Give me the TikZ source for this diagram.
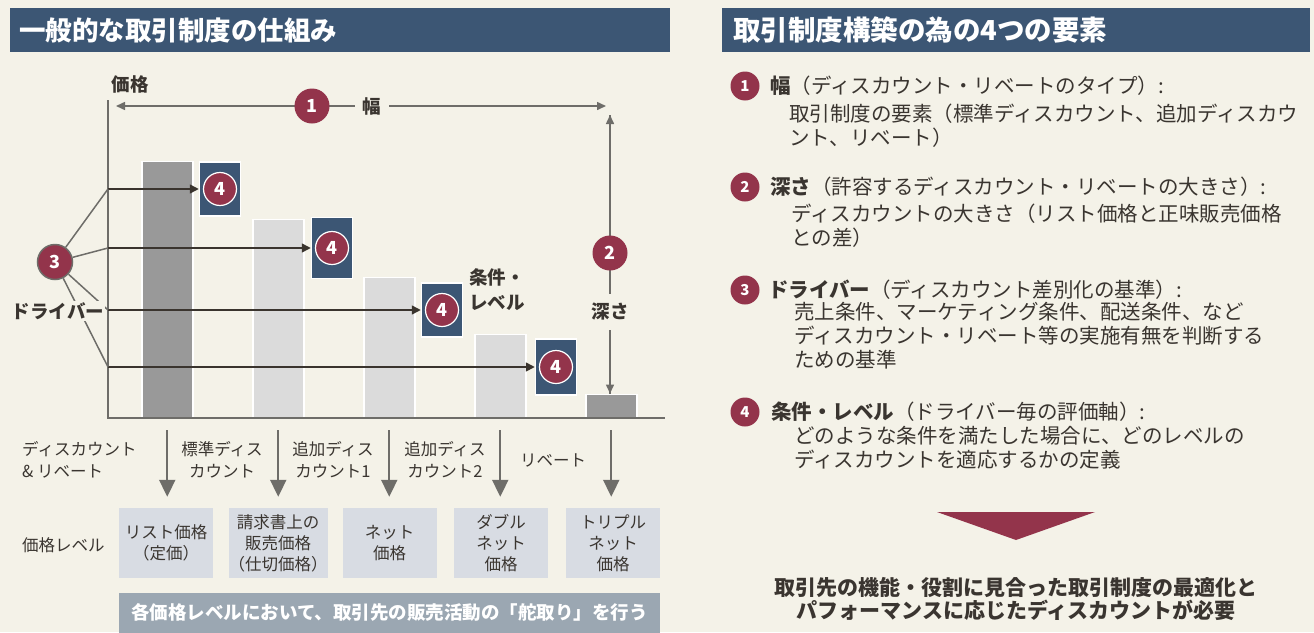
\documentclass[tikz,border=0pt]{standalone}
\usepackage{fontspec}
\setmainfont{Noto Sans CJK JP}
\usetikzlibrary{arrows.meta}
\definecolor{bg}{HTML}{F4F2E8}
\definecolor{hblue}{HTML}{3C5674}
\definecolor{maroon}{HTML}{93344B}
\definecolor{dbar}{HTML}{999999}
\definecolor{lbar}{HTML}{DBDBDB}
\definecolor{lvl}{HTML}{D8DCE3}
\definecolor{banner}{HTML}{9BA7B2}
\definecolor{axg}{HTML}{6E6D69}
\definecolor{dk}{HTML}{3A342E}
\definecolor{txt}{HTML}{3A3530}
\newcommand\fsz[2]{\fontsize{#1}{#2}\selectfont}
\begin{document}
\begin{tikzpicture}[x=1pt,y=-1pt,
  every node/.style={text=txt},
  hdrbox/.style={fill=hblue, inner sep=0, anchor=north west, minimum height=44},
  hdrtext/.style={text=white, font=\bfseries\fsz{26.5}{28}, anchor=west, inner sep=0},
  barD/.style={fill=dbar, draw=white, line width=1.5pt, anchor=south west, inner sep=0, minimum width=51},
  barL/.style={fill=lbar, draw=white, line width=1.5pt, anchor=south west, inner sep=0, minimum width=51},
  qbox/.style={fill=hblue, draw=white, line width=1.5pt, inner sep=0, minimum width=41},
  q4/.style={circle, fill=maroon, draw=white, line width=1.2pt, text=white, font=\bfseries\fsz{18}{20}, inner sep=0, minimum size=33},
  num/.style={circle, fill=maroon, text=white, font=\bfseries\fsz{18}{20}, inner sep=0, minimum size=35},
  axis/.style={draw=axg, line width=1.5pt},
  gline/.style={draw=axg, line width=1.5pt},
  darr/.style={draw=dk, line width=1.6pt, -{Triangle[length=9pt,width=9pt]}},
  garr/.style={draw=axg, line width=1.5pt, {Triangle[length=9pt,width=8pt]}-{Triangle[length=9pt,width=8pt]}},
  sarr/.style={draw=axg, line width=1.5pt, -{Triangle[length=9pt,width=8pt]}},
  downarr/.style={draw=axg, line width=2pt, -{Triangle[length=17pt,width=16pt]}},
  lbl/.style={font=\fsz{16.5}{22}, inner sep=1pt},
  lblb/.style={font=\bfseries\fsz{18.5}{25}, inner sep=1pt},
  lvlbox/.style={fill=lvl, minimum width=94, minimum height=70, align=center, inner sep=0, font=\fsz{16.5}{21}},
  rnum/.style={circle, fill=maroon, text=white, font=\bfseries\fsz{15}{16}, minimum size=29, inner sep=0},
  rhead/.style={anchor=west, font=\fsz{20.5}{24}, inner sep=0},
  rbody/.style={anchor=north west, align=left, font=\fsz{20.5}{24}, inner sep=0}
]
\fill[bg] (0,0) rectangle (1314,632);
\useasboundingbox (0,0) rectangle (1314,632);

% headers
\node[hdrbox, minimum width=660] (H1) at (10,8) {};
\node[hdrtext] (H1t) at (19,30) {一般的な取引制度の仕組み};
\node[hdrbox, minimum width=588] (H2) at (722,8) {};
\node[hdrtext, font=\bfseries\fsz{27.5}{28}] (H2t) at (733,30) {取引制度構築の為の4つの要素};

% bars
\node[barD, minimum height=256] (b1) at (141,418) {};
\node[barL, minimum height=198] (b2) at (252,418) {};
\node[barL, minimum height=140] (b3) at (363,418) {};
\node[barL, minimum height=83] (b4) at (474,418) {};
\node[barD, minimum height=23] (b5) at (585,418) {};

% axes
\coordinate (ytop) at (108,100);
\coordinate (orig) at (108,418);
\coordinate (xend) at (665,418);
\draw[axis] (ytop) -- (orig) -- (xend);
\node[lblb] (yl) at (130,84) {価格};

% condition boxes
\node[qbox, minimum height=54] (q1) at (220,189) {};
\node[q4] (n41) at (q1) {4};
\node[qbox, minimum height=61] (q2) at (332,248) {};
\node[q4] (n42) at (q2) {4};
\node[qbox, minimum height=54] (q3) at (442,310) {};
\node[q4] (n43) at (q3) {4};
\node[qbox, minimum height=56] (q4b) at (556,367) {};
\node[q4] (n44) at (q4b) {4};

% driver arrows
\coordinate (d1) at (108,189);
\coordinate (d2) at (108,248);
\coordinate (d3) at (108,310);
\coordinate (d4) at (108,367);
\draw[darr] (d1) -- (q1.west);
\draw[darr] (d2) -- (q2.west);
\draw[darr] (d3) -- (q3.west);
\draw[darr] (d4) -- (q4b.west);

% driver circle
\node[num, draw=axg, line width=1.5pt] (c3) at (55,262) {3};
\draw[gline] (c3) -- (d1);
\draw[gline] (c3) -- (d2);
\draw[gline] (c3) -- (d3);
\draw[gline] (c3) -- (d4);
\node[lblb, fill=bg] (drv) at (58,311) {ドライバー};

\node[lblb, align=left] (jl) at (497,290) {条件・\\レベル};

% width arrow
\coordinate (wl) at (116,106);
\coordinate (wr) at (606,106);
\draw[garr] (wl) -- (wr);
\node[num] (c1) at (312,106) {1};
\node[lblb, fill=bg, inner xsep=8pt] (wd) at (372,106) {幅};

% depth arrow
\coordinate (dt) at (610,115);
\draw[sarr] (dt |- b5.north) -- (dt);
\draw[sarr] (dt) -- (dt |- b5.north);
\node[num] (c2) at (610,253) {2};
\node[lblb, fill=bg, inner ysep=9pt] (dp) at (610,312) {深さ};

% level boxes
\node[lvlbox] (L1) at (166,543) {リスト価格\\（定価）};
\node[lvlbox] (L2) at (278,543) {請求書上の\\販売価格\\（仕切価格）};
\node[lvlbox] (L3) at (389.5,543) {ネット\\価格};
\node[lvlbox] (L4) at (501,543) {ダブル\\ネット\\価格};
\node[lvlbox] (L5) at (613,543) {トリプル\\ネット\\価格};

% down arrows
\draw[downarr, shorten <=12pt, shorten >=11pt] (b1.south) -- (b1.south |- L1.north);
\draw[downarr, shorten <=12pt, shorten >=11pt] (b2.south) -- (b2.south |- L2.north);
\draw[downarr, shorten <=12pt, shorten >=11pt] (b3.south) -- (b3.south |- L3.north);
\draw[downarr, shorten <=12pt, shorten >=11pt] (b4.south) -- (b4.south |- L4.north);
\draw[downarr, shorten <=12pt, shorten >=11pt] (b5.south) -- (b5.south |- L5.north);

% discount labels
\node[lbl, align=left, anchor=west] (dr) at (21,460) {ディスカウント\\\& リベート};
\node[lbl, align=center] (e1) at (222,460) {標準ディス\\カウント};
\node[lbl, align=center] (e2) at (333,460) {追加ディス\\カウント1};
\node[lbl, align=center] (e3) at (445,460) {追加ディス\\カウント2};
\node[lbl] (e4) at (553,460) {リベート};
\node[lbl, anchor=west] (pl) at (21,545) {価格レベル};

% banner
\node[fill=banner, minimum width=541, minimum height=40, text=white, font=\bfseries\fsz{18.5}{22}, inner sep=0] (bn) at (389.5,612.5) {各価格レベルにおいて、取引先の販売活動の「舵取り」を行う};

% right items
\node[rnum] (r1) at (745,86) {1};
\node[rhead] (r1h) at (770,86) {\textbf{幅}（ディスカウント・リベートのタイプ）:};
\node[rbody] (r1b) at (789,104) {取引制度の要素（標準ディスカウント、追加ディスカウ\\ント、リベート）};

\node[rnum] (r2) at (745,187) {2};
\node[rhead] (r2h) at (770,187) {\textbf{深さ}（許容するディスカウント・リベートの大きさ）:};
\node[rbody] (r2b) at (791,204) {ディスカウントの大きさ（リスト価格と正味販売価格\\との差）};

\node[rnum] (r3) at (745,290) {3};
\node[rhead] (r3h) at (768,290) {\textbf{ドライバー}（ディスカウント差別化の基準）:};
\node[rbody] (r3b) at (794,302) {売上条件、マーケティング条件、配送条件、など\\ディスカウント・リベート等の実施有無を判断する\\ための基準};

\node[rnum] (r4) at (745,412) {4};
\node[rhead] (r4h) at (771,412) {\textbf{条件・レベル}（ドライバー毎の評価軸）:};
\node[rbody] (r4b) at (794,426) {どのような条件を満たした場合に、どのレベルの\\ディスカウントを適応するかの定義};

% conclusion
\fill[maroon] (937,512) -- (1095,512) -- (1016,540) -- cycle;
\node[font=\bfseries\fsz{21}{22.5}, align=center] (fin) at (1016,599) {取引先の機能・役割に見合った取引制度の最適化と\\パフォーマンスに応じたディスカウントが必要};
\end{tikzpicture}
\end{document}
